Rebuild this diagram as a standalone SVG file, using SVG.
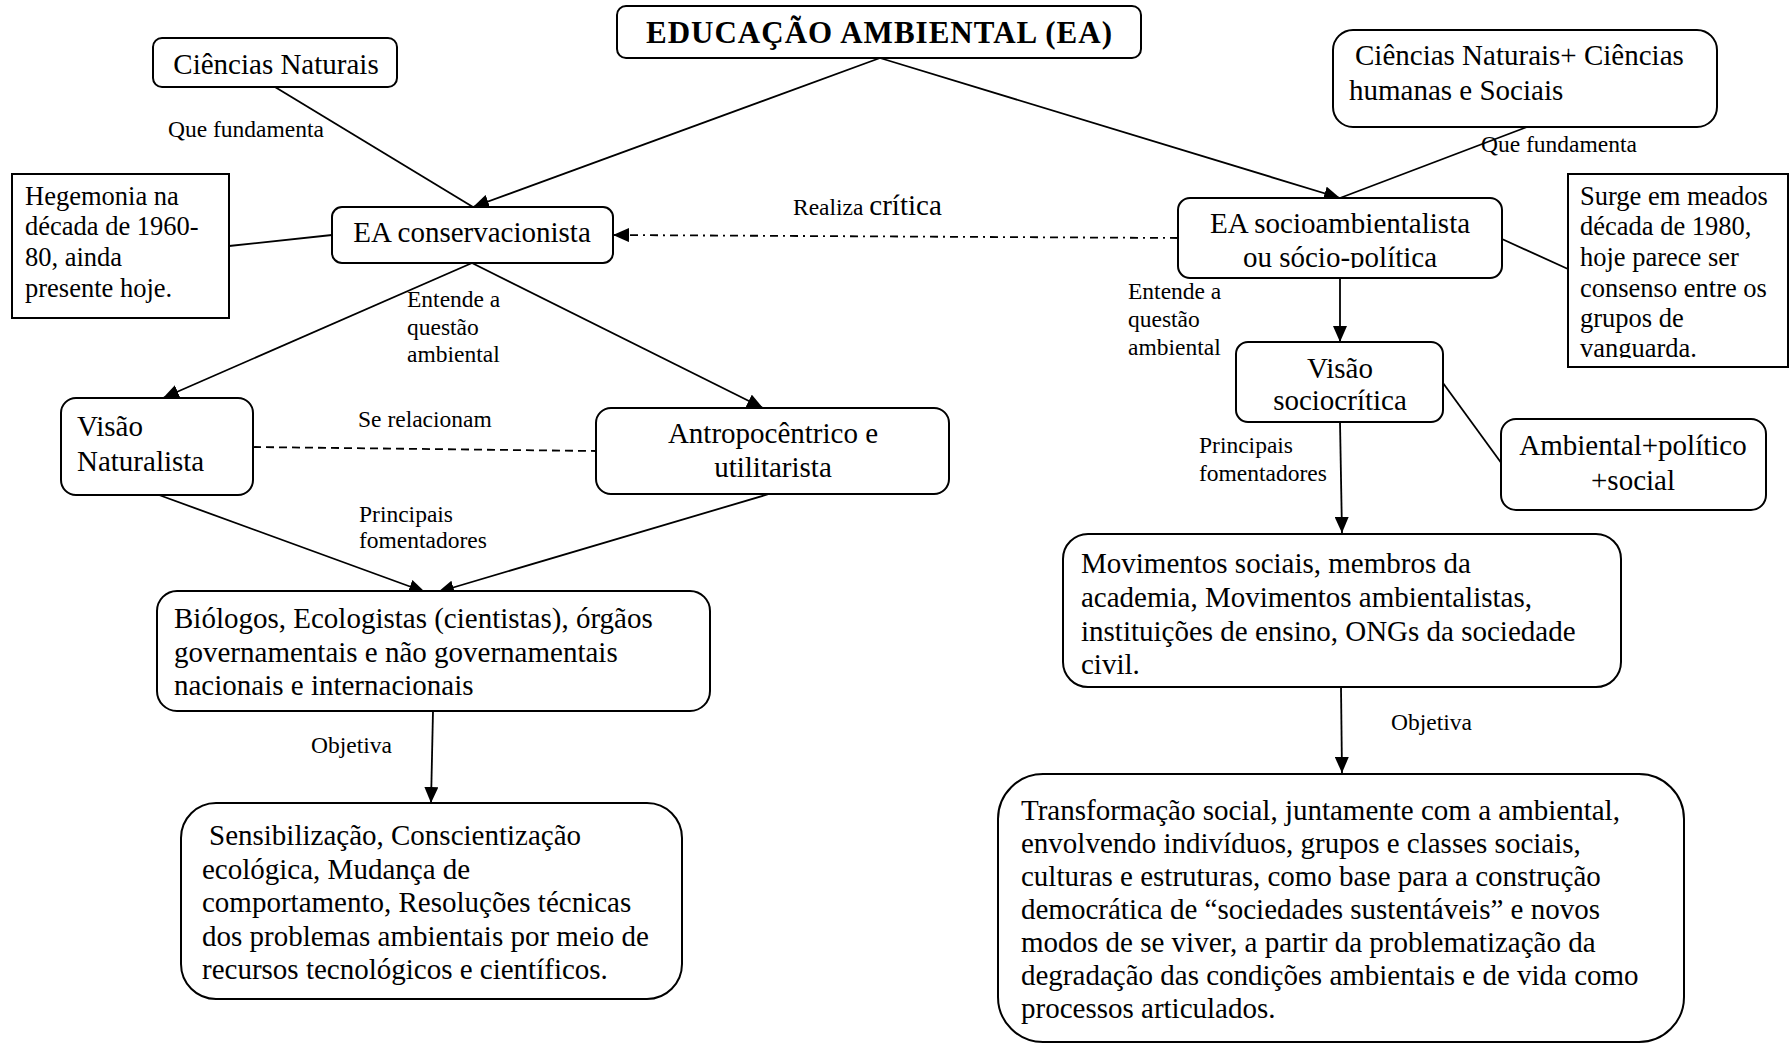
<svg xmlns="http://www.w3.org/2000/svg" width="1789" height="1045" viewBox="0 0 1789 1045">
<style>
  .box { fill: #fff; stroke: #000; stroke-width: 2; }
  .t { font-family: "Liberation Serif", "Times New Roman", serif; font-size: 29px; fill: #000; }
  .s { font-family: "Liberation Serif", "Times New Roman", serif; font-size: 26.5px; fill: #000; }
  .lbl { font-family: "Liberation Serif", "Times New Roman", serif; font-size: 23.5px; fill: #000; }
  .c { text-anchor: middle; }
  .ln { stroke: #000; stroke-width: 1.8; fill: none; }
  .arr { marker-end: url(#ah); }
</style>
<defs>
  <marker id="ah" markerUnits="userSpaceOnUse" markerWidth="16" markerHeight="14" viewBox="0 0 16 14" refX="16" refY="7" orient="auto">
    <path d="M0,0 L16,7 L0,14 z" fill="#000"/>
  </marker>
  <clipPath id="clipSocio"><rect x="1178" y="198" width="324" height="70"/></clipPath>
  <clipPath id="clipSurge"><rect x="1568" y="174" width="221" height="184"/></clipPath>
</defs>
<rect width="1789" height="1045" fill="#fff"/>

<g id="connectors">
  <line class="ln arr" x1="880" y1="58" x2="473" y2="207"/>
  <line class="ln arr" x1="880" y1="58" x2="1340" y2="198"/>
  <line class="ln" x1="275" y1="87" x2="473" y2="207"/>
  <line class="ln" x1="1527" y1="127" x2="1340" y2="198"/>
  <line class="ln" x1="229" y1="246" x2="332" y2="235"/>
  <line class="ln arr" x1="1178" y1="238" x2="613" y2="235" stroke-dasharray="8 5 2 5"/>
  <line class="ln arr" x1="472" y1="263" x2="163" y2="398"/>
  <line class="ln arr" x1="472" y1="263" x2="763" y2="408"/>
  <line class="ln" x1="253" y1="447" x2="596" y2="451" stroke-dasharray="8 5"/>
  <line class="ln arr" x1="159" y1="495" x2="425" y2="592"/>
  <line class="ln arr" x1="769" y1="494" x2="438" y2="592"/>
  <line class="ln arr" x1="433" y1="711" x2="431" y2="803"/>
  <line class="ln" x1="1502" y1="239" x2="1568" y2="269"/>
  <line class="ln arr" x1="1340" y1="278" x2="1340" y2="342"/>
  <line class="ln" x1="1443" y1="383" x2="1502" y2="464"/>
  <line class="ln arr" x1="1340" y1="422" x2="1342" y2="533"/>
  <line class="ln arr" x1="1341" y1="687" x2="1342" y2="773"/>

  <text class="lbl" x="168" y="137">Que fundamenta</text>
  <text class="lbl" x="1481" y="152">Que fundamenta</text>
  <text class="lbl" x="793" y="215">Realiza <tspan style="font-size:29px">crítica</tspan></text>
  <text class="lbl" x="407" y="307">Entende a</text>
  <text class="lbl" x="407" y="335">questão</text>
  <text class="lbl" x="407" y="362">ambiental</text>
  <text class="lbl" x="358" y="427">Se relacionam</text>
  <text class="lbl" x="359" y="522">Principais</text>
  <text class="lbl" x="359" y="548">fomentadores</text>
  <text class="lbl" x="311" y="753">Objetiva</text>
  <text class="lbl" x="1128" y="299">Entende a</text>
  <text class="lbl" x="1128" y="327">questão</text>
  <text class="lbl" x="1128" y="355">ambiental</text>
  <text class="lbl" x="1199" y="453">Principais</text>
  <text class="lbl" x="1199" y="481">fomentadores</text>
  <text class="lbl" x="1391" y="730">Objetiva</text>
</g>

<g id="n-title">
  <rect class="box" x="617" y="6" width="524" height="52" rx="9"/>
  <text class="t c" x="879" y="43" style="font-weight:bold;font-size:31px" textLength="466" lengthAdjust="spacing">EDUCAÇÃO AMBIENTAL (EA)</text>
</g>

<g id="n-cn">
  <rect class="box" x="153" y="38" width="244" height="49" rx="9"/>
  <text class="t c" x="276" y="74">Ciências Naturais</text>
</g>

<g id="n-cnhs">
  <rect class="box" x="1333" y="30" width="384" height="97" rx="20"/>
  <text class="t" x="1355" y="65">Ciências Naturais+ Ciências</text>
  <text class="t" x="1349" y="100">humanas e Sociais</text>
</g>

<g id="n-heg">
  <rect class="box" x="12" y="174" width="217" height="144"/>
  <text class="s" x="25" y="205">Hegemonia na</text>
  <text class="s" x="25" y="235">década de 1960-</text>
  <text class="s" x="25" y="266">80, ainda</text>
  <text class="s" x="25" y="297">presente hoje.</text>
</g>

<g id="n-cons">
  <rect class="box" x="332" y="207" width="281" height="56" rx="10"/>
  <text class="t c" x="472" y="242">EA conservacionista</text>
</g>

<g id="n-socio">
  <rect class="box" x="1178" y="198" width="324" height="80" rx="12"/>
  <text class="t c" x="1340" y="233">EA socioambientalista</text>
  <text class="t c" x="1340" y="267" clip-path="url(#clipSocio)">ou sócio-política</text>
</g>

<g id="n-surge">
  <rect class="box" x="1568" y="174" width="220" height="193"/>
  <g clip-path="url(#clipSurge)">
    <text class="s" x="1580" y="205">Surge em meados</text>
    <text class="s" x="1580" y="235">década de 1980,</text>
    <text class="s" x="1580" y="266">hoje parece ser</text>
    <text class="s" x="1580" y="297">consenso entre os</text>
    <text class="s" x="1580" y="327">grupos de</text>
    <text class="s" x="1580" y="357">vanguarda.</text>
  </g>
</g>

<g id="n-vn">
  <rect class="box" x="61" y="398" width="192" height="97" rx="15"/>
  <text class="t" x="77" y="436">Visão</text>
  <text class="t" x="77" y="471">Naturalista</text>
</g>

<g id="n-antr">
  <rect class="box" x="596" y="408" width="353" height="86" rx="15"/>
  <text class="t c" x="773" y="443">Antropocêntrico e</text>
  <text class="t c" x="773" y="477">utilitarista</text>
</g>

<g id="n-vs">
  <rect class="box" x="1236" y="342" width="207" height="80" rx="12"/>
  <text class="t c" x="1340" y="378">Visão</text>
  <text class="t c" x="1340" y="410">sociocrítica</text>
</g>

<g id="n-amb">
  <rect class="box" x="1501" y="419" width="265" height="91" rx="15"/>
  <text class="t c" x="1633" y="455">Ambiental+político</text>
  <text class="t c" x="1633" y="490">+social</text>
</g>

<g id="n-bio">
  <rect class="box" x="157" y="591" width="553" height="120" rx="20"/>
  <text class="t" x="174" y="628">Biólogos, Ecologistas (cientistas), órgãos</text>
  <text class="t" x="174" y="662">governamentais e não governamentais</text>
  <text class="t" x="174" y="695">nacionais e internacionais</text>
</g>

<g id="n-mov">
  <rect class="box" x="1063" y="534" width="558" height="153" rx="25"/>
  <text class="t" x="1081" y="573">Movimentos sociais, membros da</text>
  <text class="t" x="1081" y="607">academia, Movimentos ambientalistas,</text>
  <text class="t" x="1081" y="641">instituições de ensino, ONGs da sociedade</text>
  <text class="t" x="1081" y="674">civil.</text>
</g>

<g id="n-sens">
  <rect class="box" x="181" y="803" width="501" height="196" rx="35"/>
  <text class="t" x="209" y="845">Sensibilização, Conscientização</text>
  <text class="t" x="202" y="879">ecológica, Mudança de</text>
  <text class="t" x="202" y="912">comportamento, Resoluções técnicas</text>
  <text class="t" x="202" y="946">dos problemas ambientais por meio de</text>
  <text class="t" x="202" y="979">recursos tecnológicos e científicos.</text>
</g>

<g id="n-trans">
  <rect class="box" x="998" y="774" width="686" height="268" rx="45"/>
  <text class="t" x="1021" y="820">Transformação social, juntamente com a ambiental,</text>
  <text class="t" x="1021" y="853">envolvendo indivíduos, grupos e classes sociais,</text>
  <text class="t" x="1021" y="886">culturas e estruturas, como base para a construção</text>
  <text class="t" x="1021" y="919">democrática de “sociedades sustentáveis” e novos</text>
  <text class="t" x="1021" y="952">modos de se viver, a partir da problematização da</text>
  <text class="t" x="1021" y="985">degradação das condições ambientais e de vida como</text>
  <text class="t" x="1021" y="1018">processos articulados.</text>
</g>
</svg>
